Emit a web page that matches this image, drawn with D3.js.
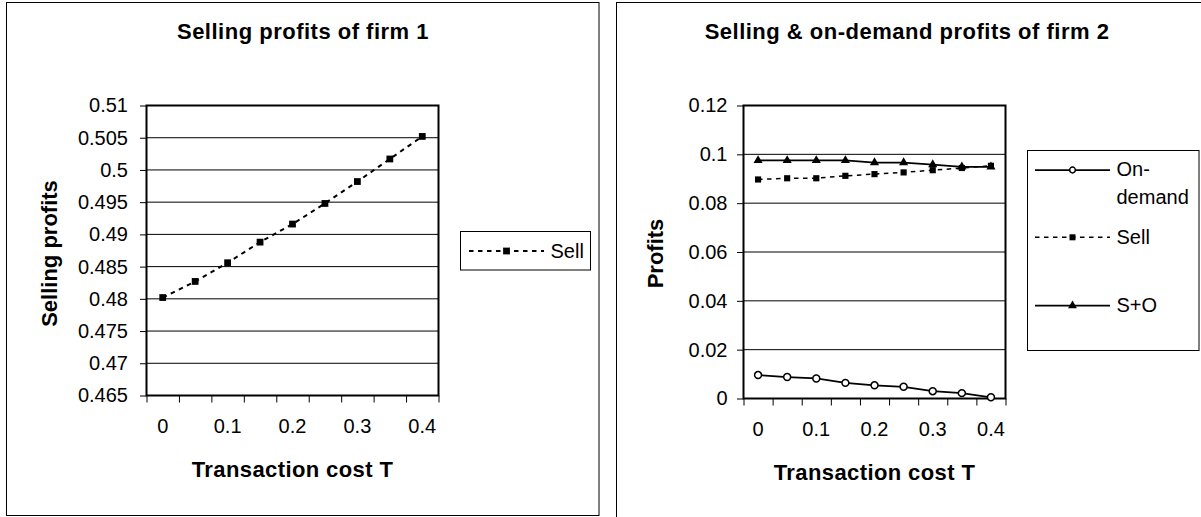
<!DOCTYPE html>
<html>
<head>
<meta charset="utf-8">
<script src="https://cdn.jsdelivr.net/npm/d3@7"></script>
<style>
  html, body { margin: 0; padding: 0; background: #fff; }
  svg { display: block; font-family: "Liberation Sans", Arial, Helvetica, sans-serif; }
</style>
</head>
<body>
<svg id="fig" width="1201" height="517"></svg>
<script>
// Transaction cost T (category axis), labels shown on every other category
const transactionCost = [0, 0.05, 0.1, 0.15, 0.2, 0.25, 0.3, 0.35, 0.4];
const xTickLabels = ["0", "0.1", "0.2", "0.3", "0.4"];

// Firm 1: selling profits
const firm1Sell = [0.4802, 0.4827, 0.4856, 0.4888, 0.4916, 0.4948, 0.4982, 0.5017, 0.5052];
const firm1YTicks = [0.465, 0.47, 0.475, 0.48, 0.485, 0.49, 0.495, 0.5, 0.505, 0.51];

// Firm 2: on-demand, selling and combined profits
const firm2OnDemand = [0.0096, 0.0088, 0.0082, 0.0064, 0.0054, 0.0048, 0.0030, 0.0022, 0.0005];
const firm2Sell     = [0.0897, 0.0902, 0.0902, 0.0912, 0.0919, 0.0926, 0.0935, 0.0944, 0.0953];
const firm2SO       = [0.0975, 0.0975, 0.0975, 0.0975, 0.0966, 0.0966, 0.0958, 0.0949, 0.0949];
const firm2YTicks = [0, 0.02, 0.04, 0.06, 0.08, 0.1, 0.12];

const svg = d3.select("#fig");

function markerPath(type, size) {
  const t = { square: d3.symbolSquare, triangle: d3.symbolTriangle, circle: d3.symbolCircle }[type];
  return d3.symbol().type(t).size(size)();
}

function drawMarker(g, s, cx, cy, size) {
  const m = g.append("path")
    .attr("d", markerPath(s.marker, size))
    .attr("transform", `translate(${cx},${cy})`);
  if (s.marker === "circle") {
    m.attr("fill", "#fff").attr("stroke", "#000").attr("stroke-width", 1.5);
  } else {
    m.attr("fill", "#000");
  }
}

function drawChart(cfg) {
  const g = svg.append("g");
  const p = cfg.plot;

  // outer chart frame
  g.append("rect")
    .attr("x", cfg.frame.x).attr("y", cfg.frame.y)
    .attr("width", cfg.frame.w).attr("height", cfg.frame.h)
    .attr("fill", "#fff").attr("stroke", "#000").attr("stroke-width", 1);

  // title
  g.append("text")
    .attr("x", cfg.titleX).attr("y", 39)
    .attr("text-anchor", "middle")
    .attr("font-size", 22).attr("font-weight", "bold")
    .attr("letter-spacing", 0.5)
    .text(cfg.title);

  const x = d3.scaleBand().domain(transactionCost).range([p.l, p.r]);
  const xEdge = d3.scaleLinear().domain([0, transactionCost.length]).range([p.l, p.r]);
  const y = d3.scaleLinear().domain(cfg.yDomain).range([p.b, p.t]);
  const cx = (d, i) => x(transactionCost[i]) + x.bandwidth() / 2;

  // horizontal gridlines
  g.append("g").selectAll("line")
    .data(cfg.yTicks.slice(1))
    .join("line")
    .attr("x1", p.l).attr("x2", p.r)
    .attr("y1", d => y(d)).attr("y2", d => y(d))
    .attr("stroke", "#000").attr("stroke-width", 1);

  // y axis
  const ya = g.append("g")
    .attr("transform", `translate(${p.l},0)`)
    .call(d3.axisLeft(y).tickValues(cfg.yTicks).tickSize(6.5)
      .tickPadding(cfg.yPad).tickFormat(d => String(d)));
  ya.select(".domain").remove();
  ya.selectAll("line").attr("stroke", "#000");
  ya.selectAll("text").attr("font-size", 20).attr("fill", "#000")
    .attr("font-family", "Liberation Sans, Arial, sans-serif");

  // x axis: ticks on category boundaries
  const xt = g.append("g")
    .attr("transform", `translate(0,${p.b})`)
    .call(d3.axisBottom(xEdge).tickValues(d3.range(transactionCost.length + 1))
      .tickSize(7).tickFormat(""));
  xt.select(".domain").remove();
  xt.selectAll("line").attr("stroke", "#000");

  // x axis: labels centred on every other category
  const labelled = transactionCost.filter((d, i) => i % 2 === 0);
  const xl = g.append("g")
    .attr("transform", `translate(0,${p.b})`)
    .call(d3.axisBottom(x).tickValues(labelled).tickSize(0).tickPadding(23.5)
      .tickFormat((d, i) => xTickLabels[i]));
  xl.select(".domain").remove();
  xl.selectAll("text").attr("font-size", 20).attr("fill", "#000")
    .attr("font-family", "Liberation Sans, Arial, sans-serif");

  // plot frame
  g.append("rect")
    .attr("x", p.l).attr("y", p.t)
    .attr("width", p.r - p.l).attr("height", p.b - p.t)
    .attr("fill", "none").attr("stroke", "#000").attr("stroke-width", 2);

  // axis titles
  g.append("text")
    .attr("x", (p.l + p.r) / 2).attr("y", p.b + 81)
    .attr("text-anchor", "middle")
    .attr("font-size", 22).attr("font-weight", "bold")
    .attr("letter-spacing", 0.4)
    .text("Transaction cost T");
  g.append("text")
    .attr("transform", `translate(${cfg.yTitleX},253.5) rotate(-90)`)
    .attr("text-anchor", "middle")
    .attr("font-size", 22).attr("font-weight", "bold")
    .text(cfg.yTitle);

  // series
  cfg.series.forEach(s => {
    const line = d3.line().x(cx).y(d => y(d));
    g.append("path")
      .datum(s.values)
      .attr("d", line)
      .attr("fill", "none").attr("stroke", "#000")
      .attr("stroke-width", s.width)
      .attr("stroke-dasharray", s.dash || null);
    s.values.forEach((v, i) => drawMarker(g, s, cx(v, i), y(v), s.size));
  });

  // legend
  const L = cfg.legend;
  g.append("rect")
    .attr("x", L.x).attr("y", L.y).attr("width", L.w).attr("height", L.h)
    .attr("fill", "#fff").attr("stroke", "#000").attr("stroke-width", 1);
  cfg.series.forEach((s, k) => {
    const e = L.entries[k];
    g.append("line")
      .attr("x1", L.lineX1).attr("x2", L.lineX2)
      .attr("y1", e.y).attr("y2", e.y)
      .attr("stroke", "#000").attr("stroke-width", s.width)
      .attr("stroke-dasharray", s.dash || null);
    drawMarker(g, s, (L.lineX1 + L.lineX2) / 2, e.y, s.legendSize);
    const t = g.append("text")
      .attr("x", L.textX).attr("font-size", 20).attr("fill", "#000");
    e.lines.forEach((ln, j) => {
      t.append("tspan").attr("x", L.textX).attr("y", e.textY + j * 28.3).text(ln);
    });
  });
}

// Left panel: firm 1
drawChart({
  frame: { x: 6.5, y: 2.5, w: 592.5, h: 513 },
  title: "Selling profits of firm 1",
  titleX: 303,
  plot: { l: 146.5, r: 438.5, t: 105.5, b: 395.5 },
  yDomain: [0.465, 0.51],
  yTicks: firm1YTicks,
  yPad: 12,
  yTitle: "Selling profits",
  yTitleX: 57,
  series: [
    { name: "Sell", values: firm1Sell, marker: "square", size: 46, legendSize: 46,
      width: 2, dash: "4.5,4.5" }
  ],
  legend: {
    x: 460.5, y: 231.5, w: 130, h: 38.5,
    lineX1: 469, lineX2: 544, textX: 550.5,
    entries: [{ y: 251, textY: 258, lines: ["Sell"] }]
  }
});

// Right panel: firm 2
drawChart({
  frame: { x: 616.5, y: 2.5, w: 700, h: 600 },
  title: "Selling & on-demand profits of firm 2",
  titleX: 907,
  plot: { l: 743.5, r: 1005.5, t: 105.5, b: 398.5 },
  yDomain: [0, 0.12],
  yTicks: firm2YTicks,
  yPad: 9.5,
  yTitle: "Profits",
  yTitleX: 663,
  series: [
    { name: "On-demand", values: firm2OnDemand, marker: "circle", size: 38, legendSize: 26,
      width: 1.75 },
    { name: "Sell", values: firm2Sell, marker: "square", size: 38, legendSize: 36,
      width: 1.5, dash: "4.5,4.5" },
    { name: "S+O", values: firm2SO, marker: "triangle", size: 36, legendSize: 34,
      width: 1.75 }
  ],
  legend: {
    x: 1027.5, y: 150.5, w: 171.5, h: 200,
    lineX1: 1035, lineX2: 1110, textX: 1116.5,
    entries: [
      { y: 170, textY: 176, lines: ["On-", "demand"] },
      { y: 237.3, textY: 243.5, lines: ["Sell"] },
      { y: 305.7, textY: 312, lines: ["S+O"] }
    ]
  }
});
</script>
</body>
</html>
